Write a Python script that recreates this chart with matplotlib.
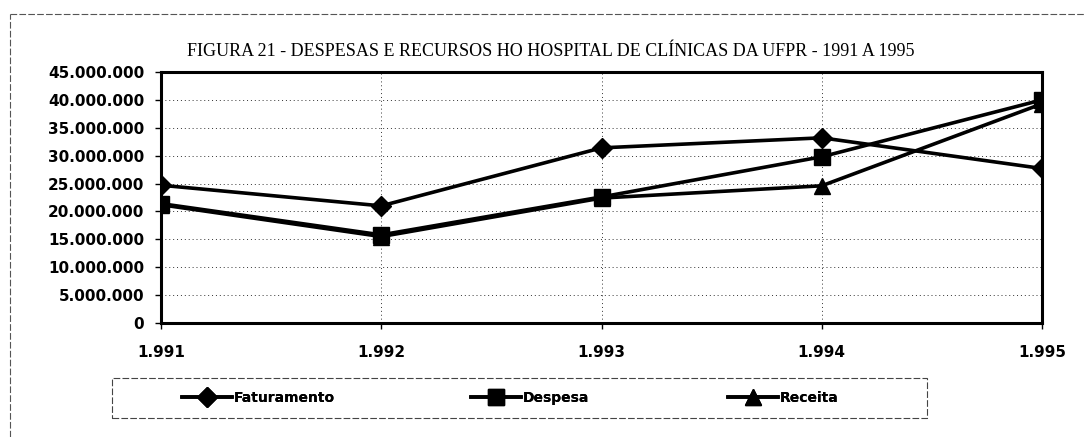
import matplotlib
matplotlib.use("Agg")
from matplotlib import pyplot as plt
from matplotlib.patches import Rectangle
from matplotlib.lines import Line2D
from matplotlib.ticker import FuncFormatter, MultipleLocator

anos = [1991, 1992, 1993, 1994, 1995]
ano_labels = ['1.991', '1.992', '1.993', '1.994', '1.995']
faturamento = [24700000, 21000000, 31400000, 33200000, 27700000]
despesa = [21400000, 15800000, 22600000, 29800000, 40000000]
receita = [21200000, 15500000, 22400000, 24600000, 39300000]
series = [('Faturamento', faturamento, 'D', 10), ('Despesa', despesa, 's', 11), ('Receita', receita, '^', 11)]

titulo = 'FIGURA 21 - DESPESAS E RECURSOS HO HOSPITAL DE CLÍNICAS DA UFPR - 1991 A 1995'

W, H = 1086, 437
fig = plt.figure(figsize=(W/100, H/100), dpi=100)
ax = fig.add_axes([161/W, 1-323/H, 881/W, 251/H])

# outer dashed frame (only top and left edges visible)
fr = dict(transform=fig.transFigure, color='#555555', linestyle=(0, (6, 2)), linewidth=0.8)
fig.add_artist(Line2D([10/W, 1], [1-14/H, 1-14/H], **fr))
fig.add_artist(Line2D([10/W, 10/W], [0, 1-14/H], **fr))

handles = []
for nome, vals, mk, ms in series:
    h, = ax.plot(anos, vals, color='k', lw=2.6, marker=mk, ms=ms, label=nome, zorder=3)
    handles.append(h)

ax.set_xlim(1991, 1995)
ax.set_ylim(0, 45000000)
ax.yaxis.set_major_locator(MultipleLocator(5000000))
ax.yaxis.set_major_formatter(FuncFormatter(lambda v, p: f'{int(v):,}'.replace(',', '.')))
ax.set_xticks(anos)
ax.set_xticklabels(ano_labels)
ax.grid(True, color='#333333', linestyle=(0, (1, 3)), linewidth=0.7)
for s in ax.spines.values():
    s.set_linewidth(2.2)
ax.tick_params(axis='y', length=4, width=1, pad=8, labelsize=11)
ax.tick_params(axis='x', length=4, width=1, pad=12, labelsize=11)
for lab in ax.get_xticklabels() + ax.get_yticklabels():
    lab.set_fontfamily('DejaVu Sans')
    lab.set_fontweight('bold')

fig.text(551/W, 1-51/H, titulo, ha='center', va='center',
         fontfamily='Liberation Serif', fontsize=13)

# legend box
fig.patches.append(Rectangle((112/W, 1-418/H), 815/W, 40/H, transform=fig.transFigure,
                             fill=False, edgecolor='#444444', linestyle=(0, (6, 2)), linewidth=0.8))
leg_x = [182, 471, 728]
for h, x in zip(handles, leg_x):
    lg = fig.legend(handles=[h], loc='center left', bbox_to_anchor=(x/W, 1-398/H),
                    frameon=False, borderpad=0, borderaxespad=0,
                    handlelength=3.6, handletextpad=0.15,
                    prop={'family': 'DejaVu Sans', 'size': 10, 'weight': 'bold'})
    fig.add_artist(lg)

fig.savefig('out.png', dpi=100)
